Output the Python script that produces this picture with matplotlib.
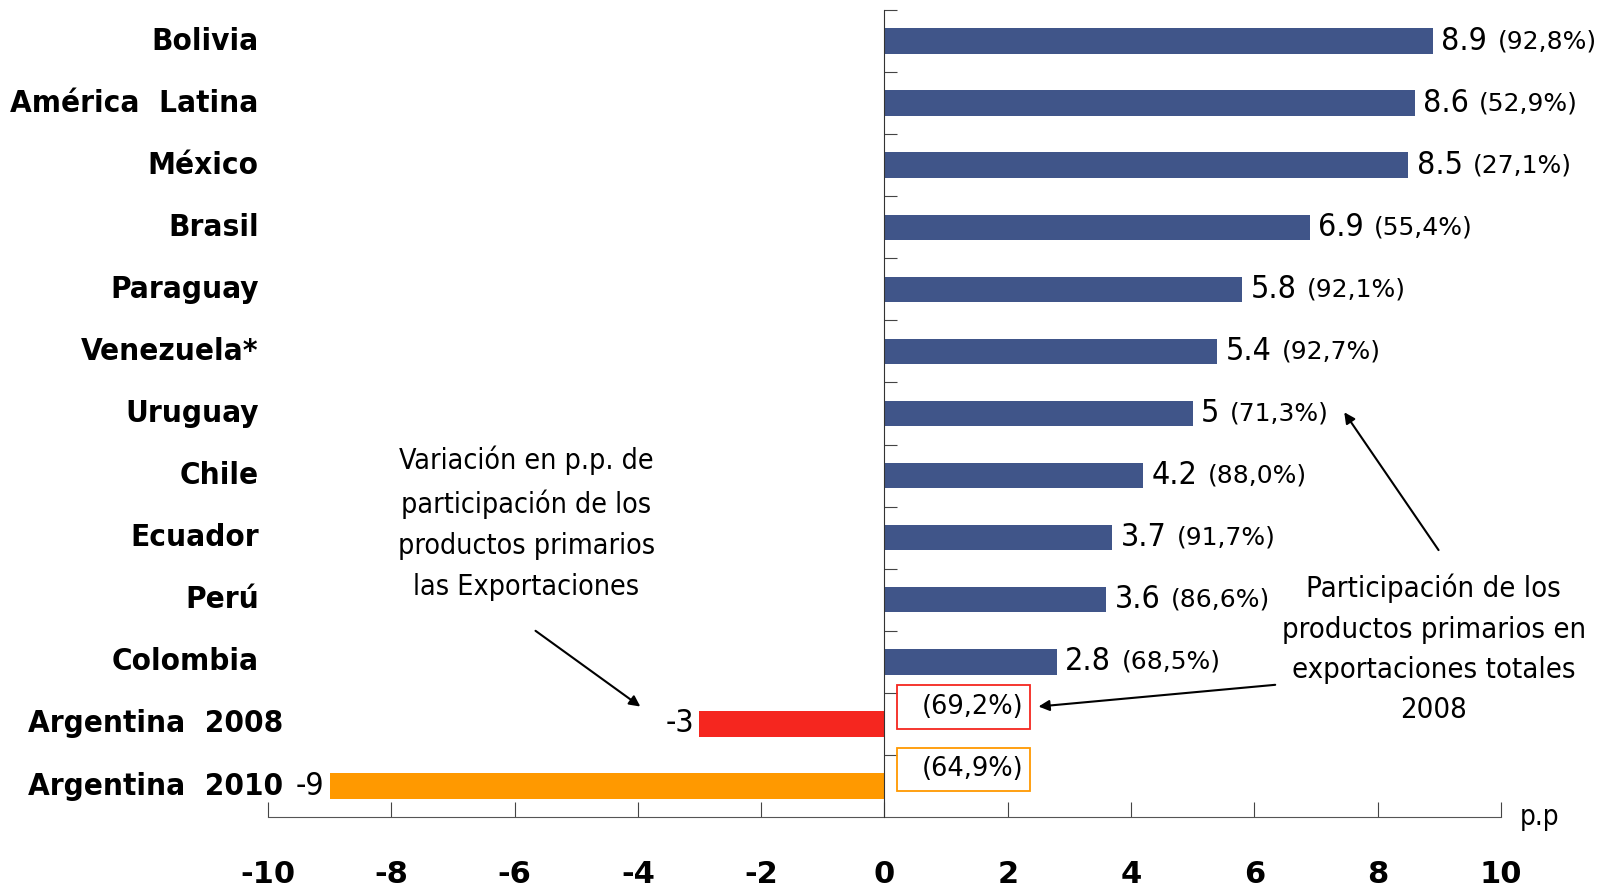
import numpy as np
import matplotlib
matplotlib.use('Agg')
import matplotlib.pyplot as plt
from matplotlib.patches import Rectangle

plt.rcParams['font.family'] = ['DejaVu Sans']
plt.rcParams['font.stretch'] = 'condensed'
plt.rcParams['axes.unicode_minus'] = False

# datos (variacion en p.p. y participacion de primarios en exportaciones 2008)
paises = ['Bolivia', 'América  Latina', 'México', 'Brasil', 'Paraguay',
          'Venezuela*', 'Uruguay', 'Chile', 'Ecuador', 'Perú', 'Colombia',
          'Argentina  2008', 'Argentina  2010']
variacion = [8.9, 8.6, 8.5, 6.9, 5.8, 5.4, 5, 4.2, 3.7, 3.6, 2.8, -3, -9]
participacion = ['92,8%', '52,9%', '27,1%', '55,4%', '92,1%', '92,7%', '71,3%',
                 '88,0%', '91,7%', '86,6%', '68,5%', '69,2%', '64,9%']

nota_izq = 'Variación en p.p. de\nparticipación de los\nproductos primarios\nlas Exportaciones'
nota_der = 'Participación de los\nproductos primarios en\nexportaciones totales\n2008'

azul = '#405589'
colores = [azul] * (len(paises) - 2) + ['#F5261F', '#FF9900']

fig = plt.figure(figsize=(15.99, 8.91), dpi=100)
ax = fig.add_axes([0.1676, 0.083, 0.771, 0.9058])

y = np.arange(len(paises))
ax.barh(y, variacion, height=0.41, color=colores, zorder=2)

ax.set_xlim(-10, 10)
ax.set_ylim(len(paises) - 0.5, -0.5)

ax.spines['top'].set_visible(False)
ax.spines['right'].set_visible(False)
ax.spines['left'].set_position(('data', 0))
ax.spines['left'].set_color('#333333')
ax.spines['bottom'].set_color('#555555')
ax.spines['left'].set_zorder(3)

ax.set_yticks(np.arange(-0.5, len(paises) - 1))
ax.tick_params(axis='y', direction='in', length=9, color='#444444', labelleft=False)
ax.set_xticks(range(-10, 11, 2))
ax.tick_params(axis='x', direction='in', length=11, color='#444444', pad=31)
for t in ax.get_xticklabels():
    t.set_fontsize(22)
    t.set_fontweight('bold')
    t.set_fontstretch('normal')

# etiquetas de paises
for i, nombre in enumerate(paises):
    x_lab = -9.76 if nombre.startswith('Argentina') else -10.15
    ax.text(x_lab, i, nombre, ha='right', va='center', fontsize=22.5,
            fontweight='bold')

# valores y participacion
for i, (v, p) in enumerate(zip(variacion, participacion)):
    if v > 0:
        val = ax.annotate(f'{v:g}', (v, i), xytext=(6, 0),
                          textcoords='offset points', va='center', fontsize=23)
        ax.annotate(f'({p})', xy=(1, 0.5), xycoords=val, xytext=(7.5, 0),
                    textcoords='offset points', va='center', fontsize=18,
                    fontstretch='normal')
    else:
        ax.annotate(f'{v:g}', (v, i), xytext=(-4, 0),
                    textcoords='offset points', ha='right', va='center',
                    fontsize=23)
        yb = i - 0.27
        ax.add_patch(Rectangle((0.21, yb - 0.35), 2.16, 0.70, fill=False,
                               edgecolor=colores[i], lw=1.3, zorder=3))
        ax.text(0.6, yb, f'({p})', ha='left', va='center', fontsize=18.5,
                fontstretch='normal')

ax.text(1.015, 0, 'p.p', transform=ax.transAxes, va='center', fontsize=20)

# notas con flechas
ax.text(-5.81, 7.77, nota_izq, ha='center', va='center', fontsize=20.5,
        linespacing=1.6)
ax.text(8.91, 9.79, nota_der, ha='center', va='center', fontsize=21,
        linespacing=1.55)

flecha = dict(arrowstyle='-|>', color='black', lw=1.5, mutation_scale=16,
              shrinkA=0, shrinkB=0)
ax.annotate('', xy=(-3.96, 10.72), xytext=(-5.66, 9.50), arrowprops=flecha)
ax.annotate('', xy=(7.46, 5.98), xytext=(8.99, 8.20), arrowprops=flecha)
ax.annotate('', xy=(2.50, 10.72), xytext=(6.34, 10.37), arrowprops=flecha)

fig.savefig('out.png', dpi=100)
